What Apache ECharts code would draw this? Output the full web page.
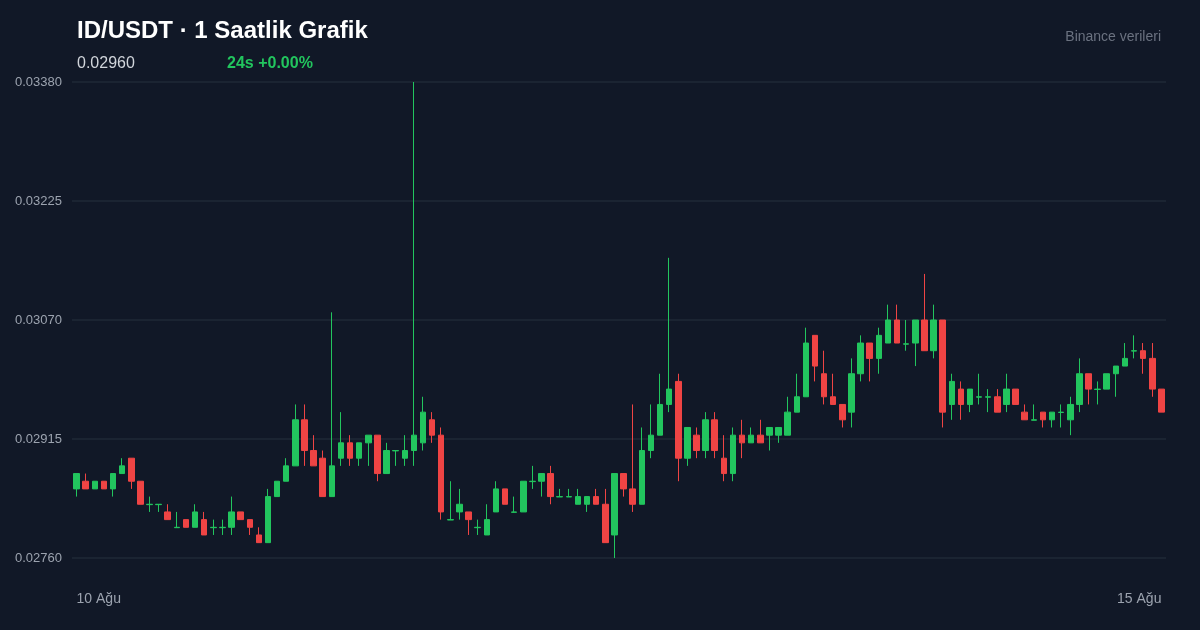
<!DOCTYPE html>
<html><head><meta charset="utf-8">
<script src="https://cdn.jsdelivr.net/npm/echarts@6/dist/echarts.min.js"></script>
<style>html,body{margin:0;padding:0;background:#111827;}#c{width:1200px;height:630px;}</style>
</head><body><div id="c"></div>
<script>
const openP  = [0.02850,0.02860,0.02850,0.02860,0.02850,0.02870,0.02890,0.02860,0.028295,0.028295,0.02820,0.027995,0.02810,0.02800,0.02810,0.027995,0.027995,0.02800,0.02820,0.02810,0.02790,0.02780,0.02840,0.02860,0.02880,0.02940,0.02900,0.02890,0.02840,0.02890,0.02910,0.02890,0.02910,0.02920,0.02870,0.028995,0.02890,0.02900,0.02910,0.02940,0.02920,0.028095,0.02820,0.02820,0.027995,0.02790,0.02820,0.02850,0.028195,0.02820,0.028595,0.02860,0.02870,0.028395,0.028395,0.02830,0.02830,0.02840,0.02830,0.02790,0.02870,0.02850,0.02830,0.02900,0.02920,0.02960,0.02990,0.02890,0.02920,0.02900,0.02940,0.02890,0.02870,0.02920,0.02910,0.02920,0.02920,0.02920,0.02920,0.02950,0.02970,0.03050,0.03000,0.02970,0.02960,0.02950,0.03000,0.03040,0.03020,0.03040,0.03070,0.030385,0.03040,0.03070,0.03030,0.03070,0.02960,0.02980,0.02960,0.029695,0.029695,0.02970,0.02960,0.02980,0.02950,0.029395,0.02950,0.02940,0.029495,0.02940,0.02960,0.03000,0.029795,0.02980,0.03000,0.03010,0.030295,0.03030,0.03020,0.02980];
const closeP = [0.02870,0.02850,0.02860,0.02850,0.02870,0.02880,0.02860,0.02830,0.02830,0.02830,0.02810,0.02800,0.02800,0.02820,0.02790,0.02800,0.02800,0.02820,0.02810,0.02800,0.02780,0.02840,0.02860,0.02880,0.02940,0.02900,0.02880,0.02840,0.02880,0.02910,0.02890,0.02910,0.02920,0.02870,0.02900,0.02900,0.02900,0.02920,0.02950,0.02920,0.02820,0.02810,0.02830,0.02810,0.02800,0.02810,0.02850,0.02830,0.02820,0.02860,0.02860,0.02870,0.02840,0.02840,0.02840,0.02840,0.02840,0.02830,0.02780,0.02870,0.02850,0.02830,0.02900,0.02920,0.02960,0.02980,0.02890,0.02930,0.02900,0.02940,0.02900,0.02870,0.02920,0.02910,0.02920,0.02910,0.02930,0.02930,0.02950,0.02970,0.03040,0.03010,0.02970,0.02960,0.02940,0.03000,0.03040,0.03020,0.03050,0.03070,0.03040,0.03039,0.03070,0.03030,0.03070,0.02950,0.02990,0.02960,0.02980,0.02970,0.02970,0.02950,0.02980,0.02960,0.02940,0.02940,0.02940,0.02950,0.02950,0.02960,0.03000,0.02980,0.02980,0.03000,0.03010,0.03020,0.03030,0.03020,0.02980,0.02950];
const lowP   = [0.02840,0.02850,0.02850,0.02850,0.02840,0.02870,0.02850,0.02830,0.02820,0.02820,0.02810,0.02800,0.02800,0.02800,0.02790,0.02790,0.02790,0.02790,0.02810,0.02790,0.02780,0.02780,0.02840,0.02860,0.02880,0.02880,0.02880,0.02840,0.02840,0.02880,0.02880,0.02880,0.02880,0.02860,0.02870,0.02880,0.02880,0.02880,0.02900,0.02910,0.02810,0.02810,0.02810,0.02790,0.02790,0.02790,0.02820,0.02830,0.02820,0.02820,0.02850,0.02840,0.02830,0.02840,0.02840,0.02830,0.02820,0.02830,0.02780,0.02760,0.02840,0.02820,0.02830,0.02890,0.02920,0.02950,0.02860,0.02880,0.02890,0.02890,0.02890,0.02860,0.02860,0.02890,0.02910,0.02910,0.02900,0.02910,0.02920,0.02950,0.02970,0.02990,0.02960,0.02960,0.02930,0.02930,0.02990,0.02990,0.03000,0.03040,0.03040,0.03030,0.03010,0.03030,0.03020,0.02930,0.02940,0.02940,0.02950,0.02960,0.02950,0.02950,0.02950,0.02960,0.02940,0.02940,0.02930,0.02930,0.02930,0.02920,0.02950,0.02960,0.02960,0.02980,0.02970,0.03010,0.03020,0.03000,0.02970,0.02950];
const highP  = [0.02870,0.02870,0.02860,0.02860,0.02870,0.02890,0.02890,0.02860,0.02840,0.02830,0.02830,0.02820,0.02810,0.02830,0.02820,0.02810,0.02810,0.02840,0.02820,0.02810,0.02800,0.02850,0.02860,0.02890,0.02960,0.02960,0.02920,0.02900,0.03080,0.02950,0.02920,0.02910,0.02920,0.02920,0.02910,0.02900,0.02920,0.03380,0.02970,0.02950,0.02930,0.02860,0.02850,0.02820,0.02810,0.02830,0.02860,0.02850,0.02840,0.02860,0.02880,0.02870,0.02880,0.02850,0.02850,0.02850,0.02840,0.02850,0.02850,0.02870,0.02870,0.02960,0.02930,0.02960,0.03000,0.03151,0.03000,0.02930,0.02930,0.02950,0.02950,0.02920,0.02930,0.02940,0.02930,0.02940,0.02930,0.02930,0.02970,0.03000,0.03060,0.03050,0.03030,0.03000,0.02960,0.03020,0.03050,0.03040,0.03060,0.03090,0.03090,0.03070,0.03070,0.03130,0.03090,0.03070,0.03000,0.02990,0.02980,0.03000,0.02980,0.02980,0.03000,0.02980,0.02960,0.02960,0.02950,0.02950,0.02960,0.02970,0.03020,0.03000,0.02990,0.03000,0.03010,0.03040,0.03050,0.03040,0.03040,0.02980];
const yTicks = [0.02760,0.02915,0.03070,0.03225,0.03380];
const dateLabels = ['10 Ağu','15 Ağu'];

const categories = openP.map((_, i) => 'h' + i);
const ohlc = openP.map((o, i) => [o, closeP[i], lowP[i], highP[i]]);

const chart = echarts.init(document.getElementById('c'));
chart.setOption({
  backgroundColor: '#111827',
  animation: false,
  title: [
    {text: 'ID/USDT · 1 Saatlik Grafik', left: 72, top: 14, textStyle: {color: '#ffffff', fontSize: 24, fontWeight: 'bold', fontFamily: 'Liberation Sans'}},
    {text: '0.02960', left: 72, top: 51, textStyle: {color: '#d1d5db', fontSize: 16, fontWeight: 'normal', fontFamily: 'Liberation Sans'}},
    {text: '24s +0.00%', left: 222, top: 51, textStyle: {color: '#22c55e', fontSize: 16, fontWeight: 'bold', fontFamily: 'Liberation Sans'}},
    {text: 'Binance verileri', right: 34, top: 25, textStyle: {color: '#6b7280', fontSize: 14, fontWeight: 'normal', fontFamily: 'Liberation Sans'}}
  ],
  grid: {left: 72, right: 34, top: 82, bottom: 72},
  xAxis: {
    type: 'category', data: categories, boundaryGap: true,
    axisLine: {show: false}, axisTick: {show: false}, splitLine: {show: false},
    axisLabel: {
      interval: 0, color: '#9ca3af', fontSize: 14, margin: 34, fontFamily: 'Liberation Sans',
      formatter: (v, i) => i === 0 ? dateLabels[0] : (i === categories.length - 1 ? dateLabels[1] : ''),
      alignMinLabel: 'left', alignMaxLabel: 'right'
    }
  },
  yAxis: {
    type: 'value', min: yTicks[0], max: yTicks[4], interval: 0.00155, scale: true,
    axisLine: {show: false}, axisTick: {show: false},
    splitLine: {lineStyle: {color: '#1f2937', width: 1.5}},
    axisLabel: {color: '#9ca3af', fontSize: 13, margin: 10, fontFamily: 'Liberation Sans', formatter: v => v.toFixed(5)}
  },
  series: [{
    type: 'candlestick', data: ohlc, barWidth: 6,
    itemStyle: {color: '#22c55e', color0: '#ef4444', borderColor: '#22c55e', borderColor0: '#ef4444', borderWidth: 1}
  }]
});
</script></body></html>
